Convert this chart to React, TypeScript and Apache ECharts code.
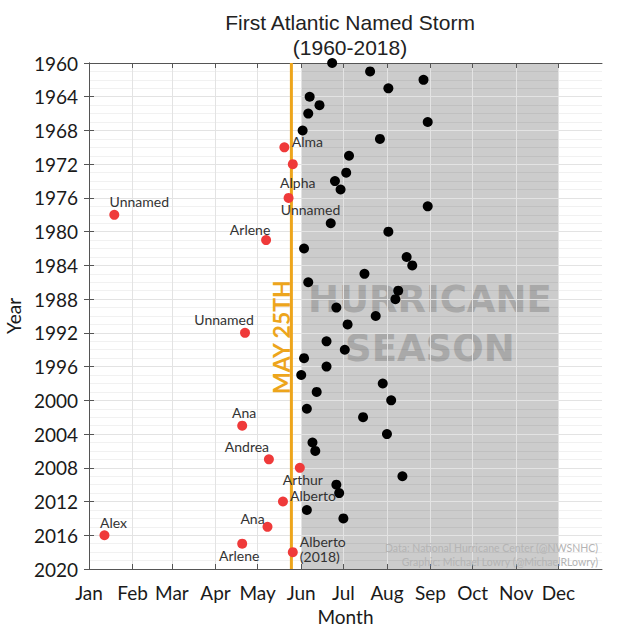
import React, { useEffect, useRef } from 'react';
import * as echarts from 'echarts';

// ---- Data ----
const monthNames = ['Jan', 'Feb', 'Mar', 'Apr', 'May', 'Jun', 'Jul', 'Aug', 'Sep', 'Oct', 'Nov', 'Dec'];
const monthStartDays = [0, 31, 59, 90, 120, 151, 181, 212, 243, 273, 304, 334];
const dayMin = 0;
const dayMax = 365;
const yearMin = 1960;
const yearMax = 2020;
const yearStep = 4;

const seasonStartDay = 151; // Jun 1
const seasonEndDay = 334; // Dec 1
const may25Day = 144;

// first named storm after May 25 (black)
const blackYears = [
  1960, 1961, 1962, 1963, 1964, 1965, 1966, 1967, 1968, 1969, 1971, 1973, 1974, 1975, 1977,
  1979, 1980, 1982, 1983, 1984, 1985, 1986, 1987, 1988, 1989, 1990, 1991, 1993, 1994, 1995,
  1996, 1997, 1998, 1999, 2000, 2001, 2002, 2004, 2005, 2006, 2009, 2010, 2011, 2013, 2014,
];
const blackDays = [
  173, 200, 238, 213, 157, 164, 156, 241, 152, 207, 185, 183, 175, 179, 241,
  172, 213, 153, 226, 230, 196, 156, 220, 218, 176, 204, 184, 169, 182, 153,
  169, 151, 209, 162, 215, 155, 195, 212, 159, 161, 223, 176, 178, 155, 181,
];

// first named storm before May 25 (red)
const redYears = [1970, 1972, 1976, 1978, 1981, 1992, 2003, 2007, 2008, 2012, 2015, 2016, 2017, 2018];
const redDays = [139, 145, 142, 18, 126, 111, 109, 128, 150, 138, 127, 11, 109, 145];
const redNames = [
  'Alma', 'Alpha', 'Unnamed', 'Unnamed', 'Arlene', 'Unnamed', 'Ana', 'Andrea', 'Arthur',
  'Alberto', 'Ana', 'Alex', 'Arlene', 'Alberto\n(2018)',
];
const redLabelOffsets = [
  [23, -6], [5, 18.5], [22, 12], [25, -13], [-16, -11], [-21, -13], [2, -13], [-22, -13],
  [3, 12], [30, -6], [-15, -8], [9, -13], [-3, 12], [7, -3],
];
const redLabelAlign = ['center', 'center', 'center', 'center', 'center', 'center', 'center',
  'center', 'center', 'center', 'center', 'center', 'center', 'left'];

const titleLines = ['First Atlantic Named Storm', '(1960-2018)'];
const creditLines = ['Data: National Hurricane Center (@NWSNHC)', 'Graphic: Michael Lowry (@MichaelRLowry)'];

const AXIS_COLOR = '#555555';
const LABEL_FONT = 'Lato';

export default function App() {
  const ref = useRef<HTMLDivElement>(null);

  useEffect(() => {
    if (!ref.current) return;
    const chart = echarts.init(ref.current, undefined, { renderer: 'svg' });

    const blackData = blackDays.map((d, i) => [d, blackYears[i]]);
    const redData = redDays.map((d, i) => ({
      value: [d, redYears[i]],
      label: {
        show: true,
        formatter: redNames[i],
        position: 'inside',
        offset: redLabelOffsets[i],
        align: redLabelAlign[i],
        verticalAlign: 'middle',
      },
    }));

    const option: any = {
      animation: false,
      backgroundColor: '#ffffff',
      title: {
        text: titleLines.join('\n'),
        left: 345,
        top: 5,
        textAlign: 'center',
        textStyle: {
          fontFamily: 'Liberation Sans',
          fontSize: 21,
          fontWeight: 'normal',
          color: '#222222',
          lineHeight: 25,
        },
      },
      grid: { left: 89, top: 63, right: 18, bottom: 61, containLabel: false, outerBoundsMode: 'none' },
      xAxis: [
        {
          type: 'value',
          min: dayMin,
          max: dayMax,
          position: 'bottom',
          z: 2,
          name: 'Month',
          nameLocation: 'middle',
          nameGap: 38,
          nameTextStyle: { fontFamily: LABEL_FONT, fontSize: 19, color: '#1a1a1a' },
          axisLine: { show: true, lineStyle: { color: AXIS_COLOR, width: 1 } },
          axisTick: { show: true, inside: true, length: 5, customValues: monthStartDays, lineStyle: { color: AXIS_COLOR } },
          axisLabel: {
            customValues: monthStartDays,
            formatter: (v: number) => monthNames[monthStartDays.indexOf(v)] ?? '',
            fontFamily: LABEL_FONT,
            fontSize: 19,
            color: '#1a1a1a',
            margin: 14,
          },
          splitLine: { show: true, lineStyle: { color: '#e3e3e3', width: 1 } },
        },
        {
          type: 'value',
          min: dayMin,
          max: dayMax,
          position: 'top',
          z: 2,
          axisLine: { show: true, lineStyle: { color: AXIS_COLOR, width: 1 } },
          axisTick: { show: true, inside: true, length: 5, customValues: monthStartDays, lineStyle: { color: AXIS_COLOR } },
          axisLabel: { show: false },
          splitLine: { show: false },
        },
      ],
      yAxis: [
        {
          type: 'value',
          inverse: true,
          min: yearMin,
          max: yearMax,
          interval: yearStep,
          z: 2,
          name: 'Year',
          nameLocation: 'middle',
          nameGap: 58,
          nameRotate: 90,
          nameTextStyle: { fontFamily: LABEL_FONT, fontSize: 19, color: '#1a1a1a' },
          axisLine: { show: true, lineStyle: { color: AXIS_COLOR, width: 1 } },
          axisTick: { show: true, inside: true, length: 5, lineStyle: { color: AXIS_COLOR } },
          axisLabel: {
            formatter: (v: number) => String(v),
            fontFamily: LABEL_FONT,
            fontSize: 19,
            color: '#1a1a1a',
            margin: 11,
          },
          splitLine: { show: true, lineStyle: { color: '#e3e3e3', width: 1 } },
          minorTick: { show: false, splitNumber: 4 },
          minorSplitLine: { show: true, lineStyle: { color: 'rgba(0,0,0,0.055)', width: 1 } },
        },
        {
          type: 'value',
          inverse: true,
          min: yearMin,
          max: yearMax,
          interval: yearStep,
          position: 'right',
          z: 2,
          axisLine: { show: true, lineStyle: { color: AXIS_COLOR, width: 1 } },
          axisTick: { show: true, inside: true, length: 5, lineStyle: { color: AXIS_COLOR } },
          axisLabel: { show: false },
          splitLine: { show: false },
        },
      ],
      graphic: [
        {
          type: 'text',
          x: 598,
          y: 548,
          z: 10,
          style: { text: creditLines[0], align: 'right', verticalAlign: 'middle', fill: '#b4b4b4', fontFamily: LABEL_FONT, fontSize: 10.5 },
        },
        {
          type: 'text',
          x: 598,
          y: 562,
          z: 10,
          style: { text: creditLines[1], align: 'right', verticalAlign: 'middle', fill: '#b4b4b4', fontFamily: LABEL_FONT, fontSize: 10.5 },
        },
      ],
      series: [
        {
          type: 'custom',
          name: 'season',
          xAxisIndex: 0,
          yAxisIndex: 0,
          z: 1,
          silent: true,
          data: [[seasonStartDay, seasonEndDay]],
          renderItem: (params: any, api: any) => {
            const cs = params.coordSys;
            const x0 = api.coord([api.value(0), yearMin])[0];
            const x1 = api.coord([api.value(1), yearMin])[0];
            const cx = (x0 + x1) / 2;
            const y1 = api.coord([seasonStartDay, 1988.1])[1];
            const y2 = api.coord([seasonStartDay, 1993.8])[1];
            return {
              type: 'group',
              children: [
                { type: 'rect', shape: { x: x0, y: cs.y, width: x1 - x0, height: cs.height }, style: { fill: '#cccccc' } },
                {
                  type: 'text',
                  x: cx,
                  y: y1,
                  style: { text: 'HURRICANE', align: 'center', verticalAlign: 'middle', fill: '#a9a9a9', fontFamily: 'DejaVu Sans', fontWeight: 'bold', fontSize: 37 },
                },
                {
                  type: 'text',
                  x: cx,
                  y: y2,
                  style: { text: 'SEASON', align: 'center', verticalAlign: 'middle', fill: '#a9a9a9', fontFamily: 'DejaVu Sans', fontWeight: 'bold', fontSize: 37 },
                },
              ],
            };
          },
        },
        {
          type: 'custom',
          name: 'may25',
          xAxisIndex: 0,
          yAxisIndex: 0,
          z: 3,
          silent: true,
          data: [[may25Day]],
          renderItem: (params: any, api: any) => {
            const top = api.coord([api.value(0), yearMin]);
            const bottom = api.coord([api.value(0), yearMax]);
            const ty = api.coord([api.value(0), 1992.5])[1];
            return {
              type: 'group',
              children: [
                { type: 'line', shape: { x1: top[0], y1: top[1], x2: bottom[0], y2: bottom[1] }, style: { stroke: '#eda51c', lineWidth: 3 } },
                {
                  type: 'text',
                  x: top[0] - 10,
                  y: ty,
                  rotation: Math.PI / 2,
                  style: { text: 'MAY 25TH', align: 'center', verticalAlign: 'middle', fill: '#eda51c', fontFamily: LABEL_FONT, fontWeight: 'bold', fontSize: 23 },
                },
              ],
            };
          },
        },
        {
          type: 'scatter',
          name: 'after',
          xAxisIndex: 0,
          yAxisIndex: 0,
          z: 4,
          symbolSize: 10,
          itemStyle: { color: '#000000', opacity: 1 },
          data: blackData,
        },
        {
          type: 'scatter',
          name: 'before',
          xAxisIndex: 0,
          yAxisIndex: 0,
          z: 5,
          symbolSize: 10,
          itemStyle: { color: '#ef3a3a', opacity: 1 },
          label: { fontFamily: LABEL_FONT, fontSize: 14, color: '#333333', lineHeight: 15 },
          data: redData,
        },
      ],
    };

    chart.setOption(option);
    return () => chart.dispose();
  }, []);

  return (
    <div
      ref={ref}
      style={{ position: 'fixed', left: 0, top: 0, width: 620, height: 630, background: '#ffffff' }}
    />
  );
}
